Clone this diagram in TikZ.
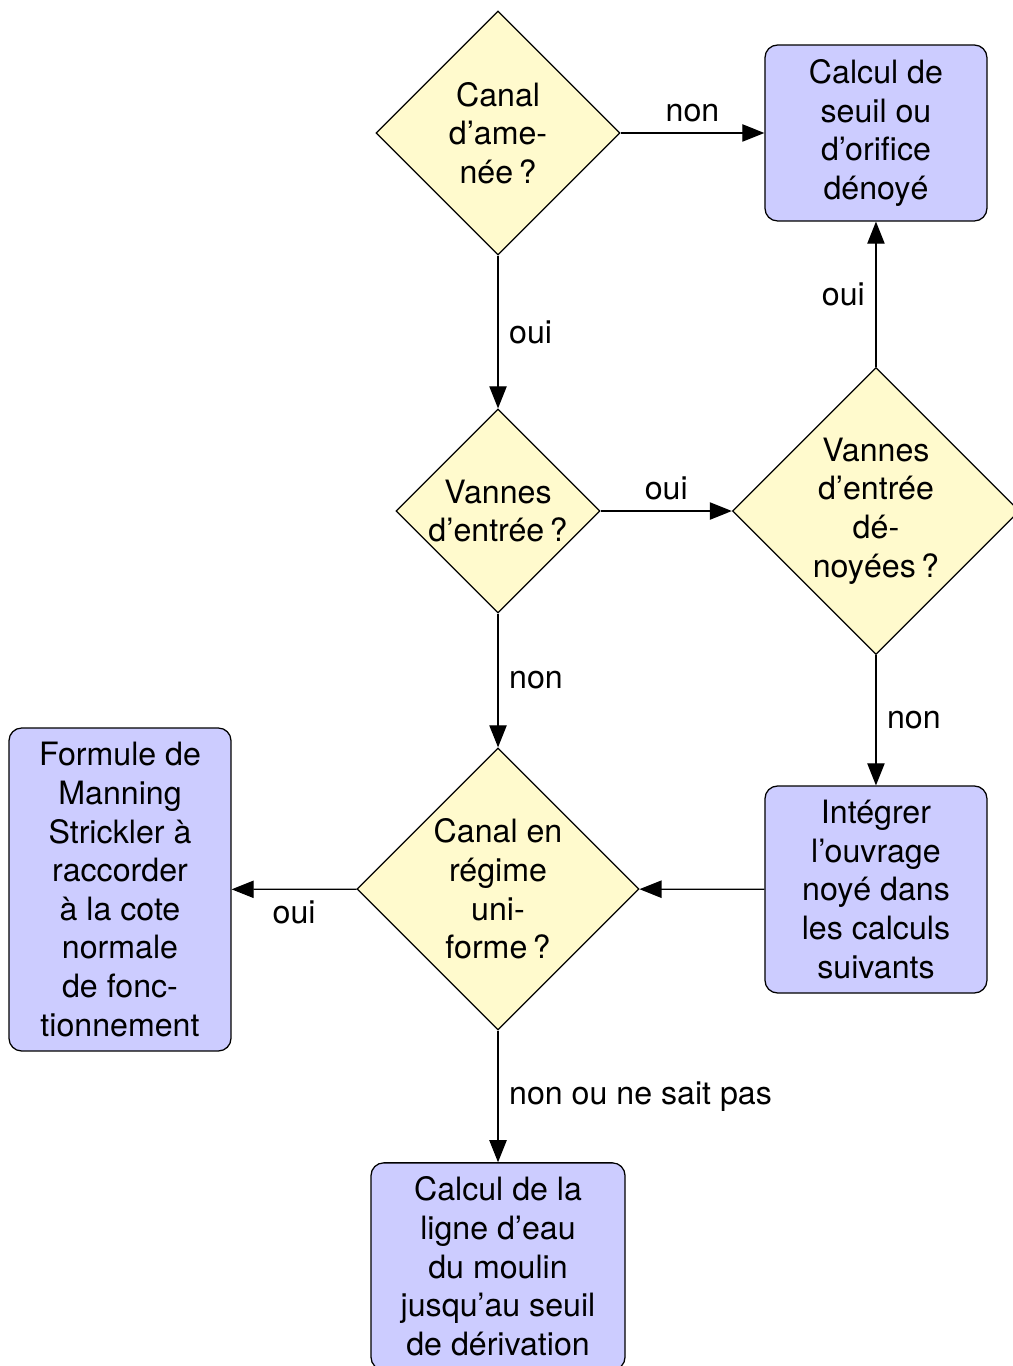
\documentclass[tikz,border=0pt]{standalone}
\usepackage{fontspec}
\setmainfont{TeX Gyre Heros}
\usetikzlibrary{shapes.geometric,arrows.meta}
\definecolor{flowyellow}{RGB}{255,250,205}
\definecolor{flowblue}{RGB}{204,204,255}

\begin{document}
\begin{tikzpicture}[
        every node/.style={font=\fontsize{10.2pt}{12.25pt}\selectfont},
        decision/.style={diamond, draw, fill=flowyellow, align=center, inner sep=0pt},
        block/.style={rectangle, draw, fill=flowblue, align=center, rounded corners, minimum width=2.475cm},
        line/.style={draw, -{Triangle[length=7pt,width=5.5pt]}}]
        \useasboundingbox (0,0) rectangle (11.284,-15.231);
        % decisions
        \node[decision, minimum size=2.72cm] (amenee) at (5.553,-1.483) {Canal\\d'ame-\\née\,?};
        \node[decision, minimum size=2.275cm] (vannes) at (5.553,-5.698) {Vannes\\d'entrée\,?};
        \node[decision, minimum size=3.2cm] (denoyees) at (9.767,-5.698) {Vannes\\d'entrée\\dé-\\noyées\,?};
        \node[decision, minimum size=3.144cm] (uniforme) at (5.553,-9.912) {Canal en\\régime\\uni-\\forme\,?};
        % blocks
        \node[block, minimum height=1.962cm] (seuil) at (9.767,-1.483) {Calcul de\\seuil ou\\d'orifice\\dénoyé};
        \node[block, minimum height=2.308cm] (integrer) at (9.767,-9.918) {Intégrer\\l'ouvrage\\noyé dans\\les calculs\\suivants};
        \node[block, minimum height=3.601cm] (manning) at (1.338,-9.918) {Formule de\\Manning\\Strickler à\\raccorder\\à la cote\\normale\\de fonc-\\tionnement};
        \node[block, minimum width=2.832cm, minimum height=2.308cm] (lignedeau) at (5.553,-14.12) {Calcul de la\\ligne d'eau\\du moulin\\jusqu'au seuil\\de dérivation};
        % connectors
        \path[line] (amenee) -- node[above] {non} (seuil);
        \path[line] (amenee) -- node[right] {oui} (vannes);
        \path[line] (vannes) -- node[above] {oui} (denoyees);
        \path[line] (denoyees) -- node[left] {oui} (seuil);
        \path[line] (vannes) -- node[right] {non} (uniforme);
        \path[line] (denoyees) -- node[right] {non} (integrer);
        \path[line] (integrer) -- (uniforme);
        \path[line] (uniforme) -- node[below] {oui} (manning);
        \path[line] (uniforme) -- node[right] {non ou ne sait pas} (lignedeau);
    \end{tikzpicture}
\end{document}
